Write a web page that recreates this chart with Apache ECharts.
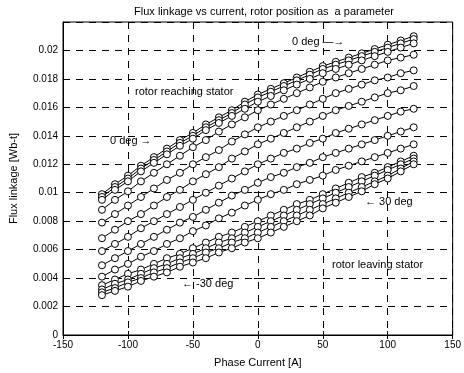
<!DOCTYPE html>
<html>
<head>
<meta charset="utf-8">
<script src="https://cdn.jsdelivr.net/npm/echarts@6/dist/echarts.min.js"></script>
<style>
  html, body { margin: 0; padding: 0; background: #fff; }
  #chart { width: 464px; height: 373px; }
</style>
</head>
<body>
<div id="chart"></div>
<script>
// phase current samples (A)
var current = [-120, -110, -100, -90, -80, -70, -60, -50, -40, -30, -20, -10, 0,
               10, 20, 30, 40, 50, 60, 70, 80, 90, 100, 110, 120];

// flux linkage curves, one per rotor position (top to bottom)
var c1  = [.0099,.0106,.0112,.0119,.0125,.0131,.0137,.0142,.0148,.0153,.0158,.0164,.0169,.0173,.0177,.0181,.0185,.0189,.0192,.0195,.0198,.0201,.0204,.0207,.0210];
var c2  = [.0097,.0104,.0110,.0117,.0123,.0129,.0135,.0140,.0146,.0151,.0156,.0162,.0167,.0171,.0175,.0179,.0183,.0187,.0190,.0193,.0196,.0199,.0202,.0205,.0208];
var c3  = [.0095,.0102,.0108,.0115,.0121,.0127,.0133,.0138,.0144,.0149,.0154,.0159,.0164,.0168,.0172,.0176,.0180,.0184,.0187,.0190,.0193,.0196,.0199,.0202,.0205];
var c4  = [.0088,.0095,.0101,.0108,.0114,.0120,.0126,.0132,.0137,.0143,.0148,.0153,.0158,.0162,.0166,.0170,.0174,.0178,.0181,.0184,.0187,.0190,.0193,.0195,.0197];
var c5  = [.0079,.0085,.0091,.0097,.0103,.0109,.0114,.0120,.0125,.0130,.0136,.0141,.0146,.0150,.0154,.0158,.0162,.0166,.0170,.0173,.0176,.0179,.0181,.0184,.0186];
var c6  = [.0068,.0074,.0080,.0085,.0091,.0097,.0102,.0108,.0113,.0118,.0124,.0129,.0134,.0138,.0142,.0146,.0150,.0154,.0158,.0161,.0164,.0167,.0170,.0172,.0175];
var c7  = [.0059,.0064,.0069,.0075,.0080,.0085,.0090,.0095,.0100,.0105,.0110,.0115,.0120,.0124,.0128,.0131,.0135,.0138,.0142,.0145,.0148,.0151,.0154,.0157,.0159];
var c8  = [.0049,.0054,.0059,.0064,.0069,.0074,.0079,.0083,.0088,.0093,.0098,.0102,.0107,.0111,.0114,.0118,.0121,.0125,.0128,.0131,.0134,.0137,.0140,.0143,.0146];
var c9  = [.0041,.0046,.0050,.0055,.0059,.0064,.0068,.0073,.0077,.0082,.0086,.0091,.0095,.0099,.0102,.0106,.0109,.0112,.0116,.0119,.0122,.0125,.0128,.0131,.0134];
var c10 = [.0035,.0039,.0043,.0046,.0050,.0054,.0057,.0061,.0065,.0069,.0072,.0076,.0080,.0084,.0088,.0092,.0095,.0099,.0103,.0107,.0111,.0114,.0118,.0122,.0126];
var c11 = [.0032,.0036,.0039,.0043,.0047,.0050,.0054,.0057,.0061,.0065,.0068,.0072,.0076,.0080,.0084,.0088,.0092,.0096,.0100,.0104,.0108,.0112,.0116,.0120,.0124];
var c12 = [.0030,.0033,.0037,.0040,.0044,.0047,.0051,.0054,.0058,.0061,.0065,.0068,.0072,.0076,.0080,.0084,.0088,.0092,.0096,.0100,.0104,.0108,.0112,.0117,.0122];
var c13 = [.0028,.0031,.0034,.0038,.0041,.0044,.0048,.0051,.0054,.0058,.0061,.0065,.0068,.0072,.0076,.0080,.0084,.0089,.0093,.0097,.0101,.0106,.0110,.0115,.0120];
var curves = [c1, c2, c3, c4, c5, c6, c7, c8, c9, c10, c11, c12, c13];

var FONT = 'Liberation Sans';

var myChart = echarts.init(document.getElementById('chart'));

var series = curves.map(function (c, i) {
  return {
    name: 'pos' + i,
    type: 'line',
    data: current.map(function (x, k) { return [x, c[k]]; }),
    symbol: 'circle',
    symbolSize: 7,
    showSymbol: true,
    lineStyle: { color: '#000', width: 1 },
    itemStyle: { color: '#fff', borderColor: '#000', borderWidth: 1 },
    animation: false,
    silent: true
  };
});

function yFmt(v) {
  if (v > 0.0211) return '';
  return String(Number(v.toFixed(4)));
}

var dash = { color: '#000', width: 1, type: [7, 6] };

option = {
  backgroundColor: '#fff',
  animation: false,
  title: {
    text: 'Flux linkage vs current, rotor position as  a parameter',
    left: 259, top: 1, textAlign: 'center',
    textStyle: { fontFamily: FONT, fontSize: 11, fontWeight: 'normal', color: '#000' }
  },
  grid: { left: 63, right: 7, top: 22, bottom: 36, show: true, borderColor: '#000', borderWidth: 1 },
  xAxis: [{
    type: 'value', min: -150, max: 150, interval: 50,
    name: 'Phase Current [A]', nameLocation: 'middle', nameGap: 22,
    nameTextStyle: { fontFamily: FONT, fontSize: 11, color: '#000' },
    axisLine: { onZero: false, lineStyle: { color: '#000' } },
    axisTick: { inside: true, length: 4, lineStyle: { color: '#000' } },
    axisLabel: { fontFamily: FONT, fontSize: 10, color: '#000', margin: 5 },
    splitLine: { show: true, lineStyle: dash }
  }, {
    type: 'value', min: -150, max: 150, interval: 50, position: 'top',
    axisLine: { show: false },
    axisTick: { inside: true, length: 4, lineStyle: { color: '#000' } },
    axisLabel: { show: false }, splitLine: { show: false }
  }],
  yAxis: [{
    type: 'value', min: 0, max: 0.022, interval: 0.002,
    name: 'Flux linkage [Wb-t]', nameLocation: 'middle', nameGap: 44,
    nameTextStyle: { fontFamily: FONT, fontSize: 11, color: '#000' },
    axisLine: { show: true, onZero: false, lineStyle: { color: '#000' } },
    axisTick: { show: true, inside: true, length: 4, lineStyle: { color: '#000' } },
    axisLabel: { fontFamily: FONT, fontSize: 10, color: '#000', margin: 5, formatter: yFmt },
    splitLine: { show: true, lineStyle: dash }
  }, {
    type: 'value', min: 0, max: 0.022, interval: 0.002, position: 'right',
    axisLine: { show: false },
    axisTick: { show: true, inside: true, length: 4, lineStyle: { color: '#000' } },
    axisLabel: { show: false }, splitLine: { show: false }
  }],
  series: series,
  graphic: [
    { type: 'text', left: 135, top: 86, style: { text: 'rotor reaching stator', font: '11px ' + FONT, fill: '#000' } },
    { type: 'text', left: 110, top: 135, style: { text: '0 deg \u2192', font: '11px ' + FONT, fill: '#000' } },
    { type: 'text', left: 292, top: 36, style: { text: '0 deg \u2014\u2192', font: '11px ' + FONT, fill: '#000' } },
    { type: 'text', left: 365, top: 196, style: { text: '\u2190 30 deg', font: '11px ' + FONT, fill: '#000' } },
    { type: 'text', left: 332, top: 259, style: { text: 'rotor leaving stator', font: '11px ' + FONT, fill: '#000' } },
    { type: 'text', left: 182, top: 278, style: { text: '\u2190 -30 deg', font: '11px ' + FONT, fill: '#000' } }
  ]
};

myChart.setOption(option);
window.addEventListener('resize', function () {
  myChart.resize();
});
</script>
</body>
</html>
